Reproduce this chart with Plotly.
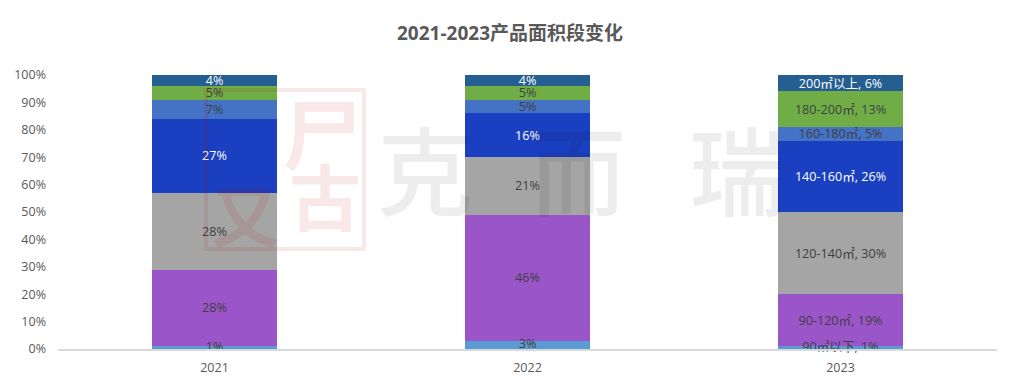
import plotly.graph_objects as go

years = ["2021", "2022", "2023"]
segments = ["90㎡以下", "90-120㎡", "120-140㎡", "140-160㎡", "160-180㎡", "180-200㎡", "200㎡以上"]
share_90_below = [1, 3, 1]
share_90_120 = [28, 46, 19]
share_120_140 = [28, 21, 30]
share_140_160 = [27, 16, 26]
share_160_180 = [7, 5, 5]
share_180_200 = [5, 5, 13]
share_200_above = [4, 4, 6]
series_values = [share_90_below, share_90_120, share_120_140, share_140_160,
                 share_160_180, share_180_200, share_200_above]
colors = ["#5B9BD5", "#9A55C9", "#A5A5A5", "#1A3FC0", "#4472C4", "#70AD47", "#255E91"]
label_colors = ["#404040", "#404040", "#404040", "#FFFFFF", "#404040", "#404040", "#FFFFFF"]
title = "2021-2023产品面积段变化"
FONT = "Open Sans, Noto Sans CJK SC"

# page pixel -> paper fraction (plot area spans 58..997 by 75..349 in the page)
px = lambda x: (x - 58) / 939
py = lambda y: (349 - y) / 274
SEAL = "rgba(192,0,0,0.09)"
MARK = "rgba(0,0,0,0.07)"


def labels(name, vals):
    return [f"{v}%" for v in vals[:2]] + [f"{name}, {vals[2]}%"]


fig = go.Figure()
for i, (name, vals, col, lc) in enumerate(zip(segments, series_values, colors, label_colors)):
    # the lowest band is thinner than its label, so its label goes on top of the next band
    fig.add_bar(x=years, y=vals, name=name, marker=dict(color=col, line=dict(width=0)),
                text=None if i == 0 else labels(name, vals), textposition="inside", insidetextanchor="middle",
                constraintext="none", textangle=0, cliponaxis=False,
                textfont=dict(family=FONT, size=12.6, color=lc))
fig.add_scatter(x=years, y=[v / 2 for v in share_90_below], mode="text", text=labels(segments[0], share_90_below),
                textposition="middle center", cliponaxis=False, hoverinfo="skip",
                textfont=dict(family=FONT, size=12.6, color=label_colors[0]))

anns = [dict(text=title, xref="paper", yref="paper", x=px(510), y=py(33), xanchor="center", yanchor="middle",
             showarrow=False, font=dict(family=FONT, size=19, color="#595959", weight="bold"))]
for ch, size, cx, cy in [("尸", 78, 322, 135), ("古", 72, 325, 197), ("又", 68, 245, 215)]:
    anns.append(dict(text=ch, xref="paper", yref="paper", x=px(cx), y=py(cy), xanchor="center",
                     yanchor="middle", showarrow=False,
                     font=dict(family=FONT, size=size, color=SEAL, weight="bold")))
for ch, cx in [("克", 425), ("而", 578), ("瑞", 737)]:
    anns.append(dict(text=ch, xref="paper", yref="paper", x=px(cx), y=py(170), xanchor="center",
                     yanchor="middle", showarrow=False,
                     font=dict(family=FONT, size=96, color=MARK, weight=500)))

shapes = [dict(type="rect", xref="paper", yref="paper", x0=px(206), x1=px(364), y0=py(249), y1=py(90),
               line=dict(color=SEAL, width=4), fillcolor="rgba(0,0,0,0)", layer="above")]

fig.update_layout(
    width=1012, height=381, barmode="stack", bargap=0.6, showlegend=False,
    paper_bgcolor="white", plot_bgcolor="rgba(0,0,0,0)",
    margin=dict(l=50, r=23, t=67, b=40),
    annotations=anns,
    shapes=shapes,
    xaxis=dict(type="category", showline=True, linecolor="#D9D9D9", linewidth=2, ticks="", ticklabelstandoff=6,
               automargin=False, tickfont=dict(family=FONT, size=12.5, color="#595959"), showgrid=False),
    yaxis=dict(range=[0, 100], tickvals=list(range(0, 101, 10)), ticktext=[f"{i}%" for i in range(0, 101, 10)],
               showgrid=False, zeroline=False, ticks="", showline=False, ticklabelstandoff=11, automargin=False,
               tickfont=dict(family=FONT, size=12.5, color="#595959")),
)
fig.write_html("out.html")
